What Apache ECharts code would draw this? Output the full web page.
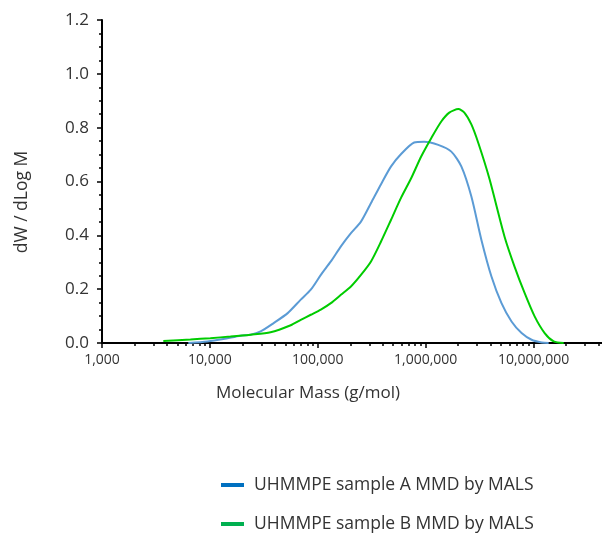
<!DOCTYPE html>
<html>
<head>
<meta charset="utf-8">
<script src="https://cdn.jsdelivr.net/npm/echarts@6/dist/echarts.min.js"></script>
<style>
  html, body { margin: 0; padding: 0; background: #ffffff; }
  #chart { width: 602px; height: 533px; }
</style>
</head>
<body>
<div id="chart"></div>
<script>
// Sample A (blue): molecular mass (g/mol) and dW/dLogM
const massA = [6310, 9480, 13360, 19220, 23810, 29500, 38970, 52600, 69500, 86100,
  106700, 132100, 163700, 202800, 251200, 311200, 385500, 477600, 591700, 781600,
  968300, 1307000, 1727000, 2139000, 2650000, 3283000, 4068000, 5039000, 6243000,
  7735000, 9581000, 11870000, 13790000];
const valuesA = [0.0, 0.006, 0.015, 0.027, 0.031, 0.043, 0.074, 0.111, 0.161, 0.198,
  0.253, 0.303, 0.359, 0.408, 0.451, 0.52, 0.59, 0.656, 0.702, 0.745,
  0.748, 0.736, 0.711, 0.656, 0.544, 0.383, 0.247, 0.148, 0.08,
  0.037, 0.012, 0.002, 0.0];

// Sample B (green)
const massB = [3700, 6600, 10100, 15500, 23800, 36500, 56100, 69500, 86100, 106700,
  132100, 163700, 202800, 251200, 311200, 385500, 477600, 591700, 733100, 908100,
  1125000, 1394000, 1654000, 2006000, 2281000, 2650000, 3079000, 3897000, 5372000,
  6658000, 8249000, 10220000, 12660000, 15350000, 19010000];
const valuesB = [0.007, 0.013, 0.018, 0.024, 0.031, 0.040, 0.066, 0.086, 0.105, 0.124,
  0.148, 0.179, 0.21, 0.253, 0.303, 0.377, 0.458, 0.54, 0.612, 0.693,
  0.761, 0.823, 0.856, 0.869, 0.856, 0.812, 0.742, 0.61, 0.396,
  0.284, 0.186, 0.099, 0.037, 0.006, 0.0];

const seriesNames = ['UHMMPE sample A MMD by MALS', 'UHMMPE sample B MMD by MALS'];
const legendColors = ['#0070C0', '#00B050'];
const xAxisTitle = 'Molecular Mass (g/mol)';
const yAxisTitle = 'dW / dLog M';

const FONT = '"Open Sans", "Noto Sans", sans-serif';
const TEXT = '#333333';

// minor log ticks (2..9 x 10^n)
const minorTicks = [];
for (let d = 3; d < 8; d++) {
  for (let k = 2; k <= 9; k++) minorTicks.push(k * Math.pow(10, d));
}

const chart = echarts.init(document.getElementById('chart'), null, { renderer: 'canvas' });

const legendBase = (idx, top) => ({
  orient: 'horizontal',
  left: 216,
  top: top,
  icon: 'rect',
  itemWidth: 23,
  itemHeight: 4,
  textStyle: { fontFamily: FONT, fontSize: 17.5, color: TEXT, padding: [0, 0, 0, 5] },
  data: [{ name: seriesNames[idx], itemStyle: { color: legendColors[idx] } }]
});

chart.setOption({
  animation: false,
  backgroundColor: '#ffffff',
  grid: { left: 102, top: 20, right: -39.5, bottom: 190, outerBoundsMode: 'none', containLabel: false },
  legend: [legendBase(0, 471), legendBase(1, 510)],
  xAxis: [
    {
      type: 'log',
      logBase: 10,
      min: 1000,
      max: 100000000,
      axisLine: { show: true, onZero: false, lineStyle: { color: '#000', width: 2 } },
      axisTick: { show: true, length: 5, lineStyle: { color: '#000', width: 1.5 } },
      axisLabel: {
        margin: 10, fontFamily: FONT, fontSize: 14, color: TEXT,
        formatter: v => Math.round(v).toLocaleString('en-US')
      },
      splitLine: { show: false },
      minorTick: { show: false }
    },
    {
      type: 'log',
      logBase: 10,
      min: 1000,
      max: 100000000,
      position: 'bottom',
      axisLine: { show: false },
      axisTick: { show: true, length: 3, customValues: minorTicks, lineStyle: { color: '#000', width: 1.5 } },
      axisLabel: { show: false },
      splitLine: { show: false }
    }
  ],
  yAxis: {
    type: 'value',
    min: 0,
    max: 1.2,
    interval: 0.2,
    axisLine: { show: true, lineStyle: { color: '#000', width: 2 } },
    axisTick: { show: true, length: 5, lineStyle: { color: '#000', width: 1.5 } },
    minorTick: { show: true, splitNumber: 4, length: 3, lineStyle: { color: '#000', width: 1.5 } },
    axisLabel: { margin: 13, fontFamily: FONT, fontSize: 17, color: TEXT, formatter: v => v.toFixed(1) },
    splitLine: { show: false }
  },
  graphic: [
    {
      type: 'text',
      x: 308, y: 393,
      style: { text: xAxisTitle, font: '17px ' + FONT, fill: TEXT, align: 'center', verticalAlign: 'middle' }
    },
    {
      type: 'text',
      x: 22, y: 202,
      rotation: Math.PI / 2,
      style: { text: yAxisTitle, font: '17.5px ' + FONT, fill: TEXT, align: 'center', verticalAlign: 'middle' }
    }
  ],
  series: [
    {
      name: seriesNames[0],
      type: 'line',
      xAxisIndex: 0,
      showSymbol: false,
      smooth: 0.25,
      data: massA.map((m, i) => [m, valuesA[i]]),
      lineStyle: { color: '#5B9BD5', width: 2 },
      itemStyle: { color: '#5B9BD5' }
    },
    {
      name: seriesNames[1],
      type: 'line',
      xAxisIndex: 0,
      showSymbol: false,
      smooth: 0.25,
      data: massB.map((m, i) => [m, valuesB[i]]),
      lineStyle: { color: '#00CC00', width: 2 },
      itemStyle: { color: '#00CC00' }
    }
  ]
});
</script>
</body>
</html>
